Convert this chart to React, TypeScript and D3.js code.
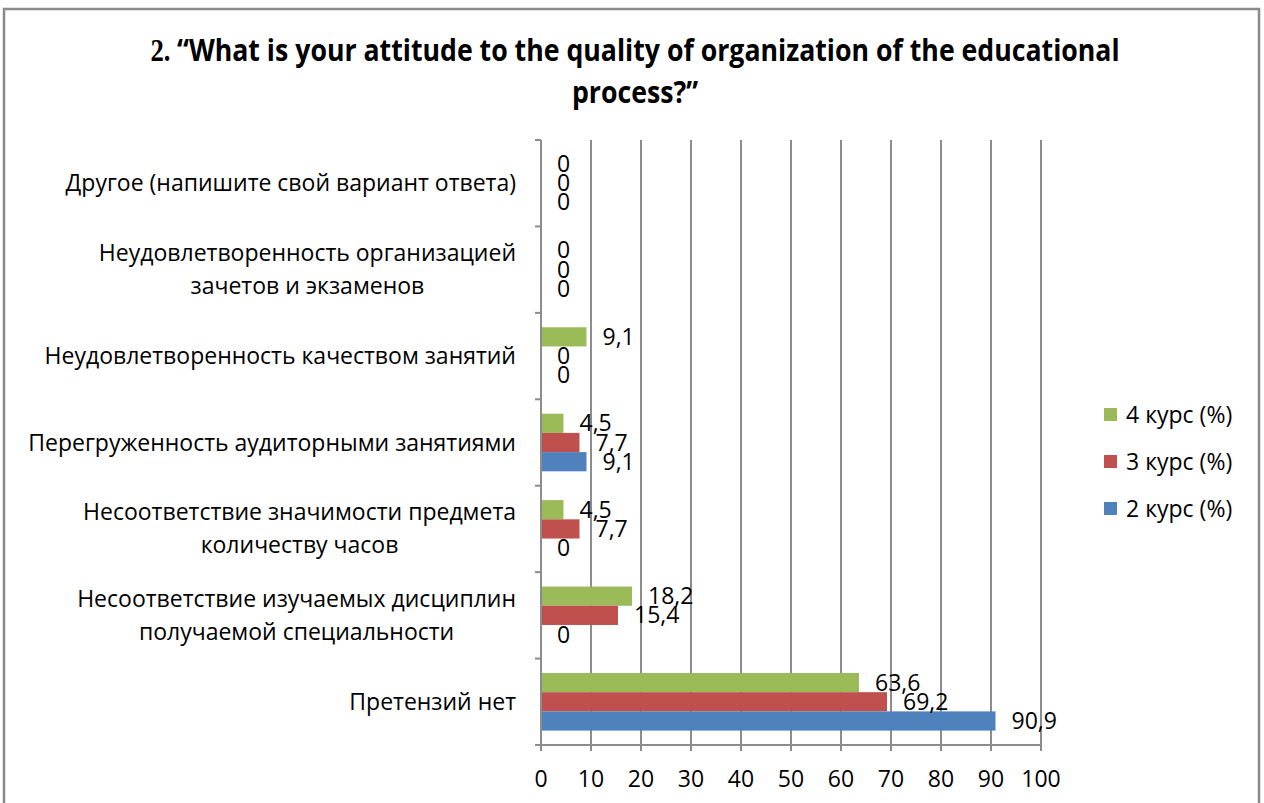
import React, { useEffect, useRef } from "react";
import * as d3 from "d3";

// Categories listed top to bottom
const categories = [
  "Другое (напишите свой вариант ответа)",
  "Неудовлетворенность организацией\nзачетов и экзаменов",
  "Неудовлетворенность качеством занятий",
  "Перегруженность аудиторными занятиями",
  "Несоответствие значимости предмета\nколичеству часов",
  "Несоответствие изучаемых дисциплин\nполучаемой специальности",
  "Претензий нет",
];
const seriesNames = ["4 курс (%)", "3 курс (%)", "2 курс (%)"];
const values4 = [0, 0, 9.1, 4.5, 4.5, 18.2, 63.6];
const values3 = [0, 0, 0, 7.7, 7.7, 15.4, 69.2];
const values2 = [0, 0, 0, 9.1, 0, 0, 90.9];
const xTicks = [0, 10, 20, 30, 40, 50, 60, 70, 80, 90, 100];
const seriesColors = ["#9BBB59", "#C0504D", "#4F81BD"];
const titleLine1Rest = "“What is your attitude to the quality of organization of the educational";
const titleLine2 = "process?”";

const FONT = "'Open Sans', 'Noto Sans', sans-serif";
const FS = 23;

export default function App() {
  const ref = useRef<SVGSVGElement>(null);
  useEffect(() => {
    const svg = d3.select(ref.current);
    svg.selectAll("*").remove();

    const left = 541, right = 1041, top = 140, bottom = 745;
    const x = d3.scaleLinear().domain([0, 100]).range([left, right]);
    const y = d3.scaleBand<string>().domain(categories).range([top, bottom]).paddingInner(0).paddingOuter(0);
    const ys = d3.scaleBand<string>().domain(seriesNames).range([0, y.bandwidth()]).paddingInner(0).paddingOuter(0.75);
    const seriesValues = [values4, values3, values2];

    // outer border
    svg.append("rect").attr("x", 4).attr("y", 9).attr("width", 1255).attr("height", 800)
      .attr("fill", "none").attr("stroke", "#8a8a8a").attr("stroke-width", 2.5);

    // title
    const tg = svg.append("g");
    const t1 = tg.append("text").attr("x", 635).attr("y", 61).attr("text-anchor", "middle")
      .attr("font-family", FONT).attr("font-weight", "bold").attr("font-size", 31).attr("fill", "#000");
    t1.append("tspan").attr("font-family", "'Liberation Serif', serif").text("2. ");
    t1.append("tspan").text(titleLine1Rest);
    tg.append("text").attr("x", 635).attr("y", 103).attr("text-anchor", "middle")
      .attr("font-family", FONT).attr("font-weight", "bold").attr("font-size", 31).attr("fill", "#000")
      .text(titleLine2);
    const natural = (t1.node() as SVGTextElement).getComputedTextLength();
    const sx = 970 / natural;
    tg.attr("transform", `translate(635,0) scale(${sx},1) translate(-635,0)`);

    // gridlines
    svg.append("g").selectAll("line").data(xTicks.slice(1)).join("line")
      .attr("x1", d => x(d)).attr("x2", d => x(d)).attr("y1", top).attr("y2", bottom)
      .attr("stroke", "#8c8c8c").attr("stroke-width", 2);

    // bars
    const bg = svg.append("g");
    seriesNames.forEach((s, si) => {
      bg.selectAll(`rect.s${si}`).data(categories).join("rect").attr("class", `s${si}`)
        .attr("x", x(0)).attr("y", c => (y(c) as number) + (ys(s) as number))
        .attr("width", (c, i) => x(seriesValues[si][i]) - x(0)).attr("height", ys.bandwidth())
        .attr("fill", seriesColors[si]);
    });

    // axes
    const ax = svg.append("g").attr("stroke", "#8c8c8c").attr("stroke-width", 2);
    ax.append("line").attr("x1", left).attr("x2", left).attr("y1", top).attr("y2", bottom + 6);
    ax.append("line").attr("x1", left - 6).attr("x2", right).attr("y1", bottom).attr("y2", bottom);
    ax.selectAll("line.yt").data(categories).join("line").attr("class", "yt")
      .attr("x1", left - 6).attr("x2", left).attr("y1", c => y(c) as number).attr("y2", c => y(c) as number);
    ax.selectAll("line.xt").data(xTicks).join("line").attr("class", "xt")
      .attr("x1", d => x(d)).attr("x2", d => x(d)).attr("y1", bottom).attr("y2", bottom + 6);

    // x tick labels
    svg.append("g").selectAll("text").data(xTicks).join("text")
      .attr("x", d => x(d)).attr("y", 787).attr("text-anchor", "middle")
      .attr("font-family", FONT).attr("font-size", FS).attr("fill", "#000")
      .text(d => String(d));

    // category labels
    const cg = svg.append("g").attr("font-family", FONT).attr("font-size", FS).attr("fill", "#000");
    categories.forEach(c => {
      const lines = c.split("\n");
      const cy = (y(c) as number) + y.bandwidth() / 2;
      const lh = 33;
      const txt = cg.append("text");
      const spans = lines.map((ln, li) =>
        txt.append("tspan").attr("y", cy + (li - (lines.length - 1) / 2) * lh + 8).text(ln));
      const widths = spans.map(sp => (sp.node() as SVGTSpanElement).getComputedTextLength());
      const maxW = Math.max(...widths);
      const cx = 516 - maxW / 2;
      spans.forEach(sp => sp.attr("x", cx).attr("text-anchor", "middle"));
    });

    // data labels
    const lg = svg.append("g").attr("font-family", FONT).attr("font-size", FS).attr("fill", "#000");
    seriesNames.forEach((s, si) => {
      lg.selectAll(`text.l${si}`).data(categories).join("text").attr("class", `l${si}`)
        .attr("x", (c, i) => x(seriesValues[si][i]) + 16)
        .attr("y", c => (y(c) as number) + (ys(s) as number) + ys.bandwidth() / 2 + 8)
        .text((c, i) => String(seriesValues[si][i]).replace(".", ","));
    });

    // legend
    const leg = svg.append("g");
    seriesNames.forEach((s, si) => {
      const ly = 415 + si * 47;
      leg.append("rect").attr("x", 1104).attr("y", ly - 7).attr("width", 13).attr("height", 13).attr("fill", seriesColors[si]);
      leg.append("text").attr("x", 1126).attr("y", ly + 8).attr("font-family", FONT).attr("font-size", FS)
        .attr("fill", "#000").text(s);
    });
  }, []);
  return (
    <svg ref={ref} width={1264} height={803}
      style={{ position: "absolute", left: 0, top: 0, background: "#fff" }} />
  );
}
